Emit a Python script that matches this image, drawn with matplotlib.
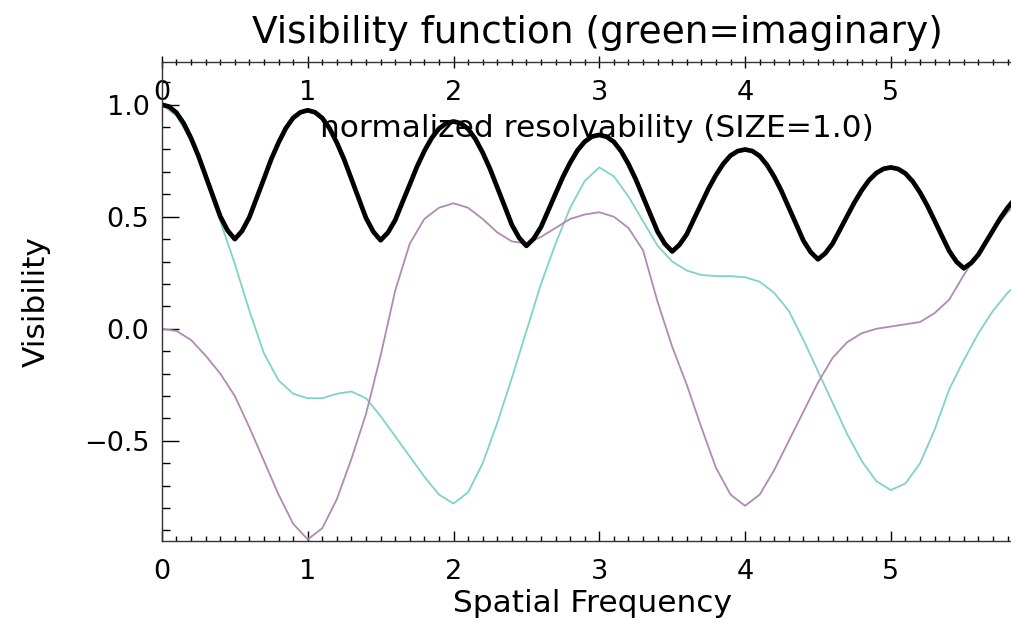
import numpy as np
import matplotlib
matplotlib.use('Agg')
from matplotlib import pyplot as plt
from matplotlib.ticker import MultipleLocator

# real / imaginary parts, read every 0.1
freq = np.round(np.arange(0, 5.91, 0.1), 1)

vis_cyan = [1.00, 0.95, 0.84, 0.67, 0.48, 0.29, 0.08, -0.11, -0.23, -0.29,
            -0.31, -0.31, -0.29, -0.28, -0.31, -0.39, -0.48, -0.57, -0.66, -0.74,
            -0.78, -0.73, -0.60, -0.42, -0.22, -0.01, 0.20, 0.38, 0.54, 0.66,
            0.72, 0.68, 0.59, 0.48, 0.37, 0.30, 0.26, 0.24, 0.235, 0.235,
            0.23, 0.21, 0.16, 0.08, -0.05, -0.19, -0.33, -0.47, -0.59, -0.68,
            -0.72, -0.69, -0.60, -0.45, -0.27, -0.14, -0.02, 0.08, 0.16, 0.22]

vis_purple = [0.00, -0.01, -0.05, -0.12, -0.20, -0.30, -0.44, -0.59, -0.74, -0.87,
              -0.94, -0.89, -0.76, -0.58, -0.38, -0.12, 0.17, 0.38, 0.49, 0.54,
              0.56, 0.54, 0.49, 0.43, 0.39, 0.38, 0.41, 0.45, 0.49, 0.51,
              0.52, 0.50, 0.45, 0.35, 0.12, -0.08, -0.25, -0.44, -0.62, -0.74,
              -0.79, -0.74, -0.63, -0.50, -0.37, -0.24, -0.13, -0.06, -0.02, 0.00,
              0.01, 0.02, 0.03, 0.07, 0.13, 0.24, 0.34, 0.44, 0.52, 0.58]

# normalized resolvability, read every 0.05
freq_fine = np.round(np.arange(0, 5.91, 0.05), 2)

resolv = [1.000, 0.991, 0.964, 0.916, 0.850, 0.772, 0.682, 0.592, 0.502, 0.439,
          0.400, 0.437, 0.498, 0.584, 0.670, 0.757, 0.831, 0.895, 0.941, 0.966,
          0.975, 0.966, 0.940, 0.894, 0.830, 0.755, 0.668, 0.581, 0.494, 0.433,
          0.395, 0.429, 0.485, 0.565, 0.644, 0.724, 0.793, 0.851, 0.893, 0.917,
          0.925, 0.917, 0.892, 0.847, 0.786, 0.714, 0.631, 0.548, 0.464, 0.406,
          0.370, 0.402, 0.454, 0.528, 0.603, 0.677, 0.741, 0.796, 0.835, 0.858,
          0.865, 0.857, 0.834, 0.792, 0.735, 0.667, 0.589, 0.511, 0.433, 0.379,
          0.345, 0.375, 0.422, 0.491, 0.559, 0.627, 0.686, 0.736, 0.773, 0.793,
          0.800, 0.793, 0.771, 0.731, 0.678, 0.614, 0.540, 0.467, 0.393, 0.342,
          0.310, 0.337, 0.380, 0.441, 0.503, 0.564, 0.618, 0.663, 0.695, 0.714,
          0.720, 0.713, 0.693, 0.657, 0.608, 0.549, 0.482, 0.414, 0.347, 0.299,
          0.270, 0.293, 0.331, 0.385, 0.439, 0.493, 0.540, 0.580, 0.608]

fig = plt.figure(figsize=(10.12, 6.26), dpi=100)
ax = fig.add_axes([0.160, 0.1358, 0.85, 0.765])

ax.plot(freq, vis_cyan, color='#80d2ca', lw=1.3)
ax.plot(freq, vis_purple, color='#b08ab4', lw=1.3)
ax.plot(freq_fine, resolv, color='black', lw=3.4, solid_joinstyle='round', solid_capstyle='round')

ax.set_xlim(0, 5.9)
ax.set_ylim(-0.947, 1.19)

for s in ax.spines.values():
    s.set_linewidth(1.0)
    s.set_color('#333333')
ax.spines['top'].set_visible(False)
ax.spines['right'].set_visible(False)

ax.set_xticks([0, 1, 2, 3, 4, 5])
ax.xaxis.set_minor_locator(MultipleLocator(0.1))
ax.set_yticks([-0.5, 0.0, 0.5, 1.0])
ax.set_yticklabels(['\u22120.5', '0.0', '0.5', '1.0'])
ax.yaxis.set_minor_locator(MultipleLocator(0.1))

ax.tick_params(axis='x', which='major', direction='in', length=7, width=1, labelsize=19.5, pad=13)
ax.tick_params(axis='x', which='minor', direction='in', length=3.5, width=1)
ax.tick_params(axis='y', which='major', direction='in', length=12, width=1, labelsize=19.5, pad=9)
ax.tick_params(axis='y', which='minor', direction='in', length=6, width=1)

top = ax.secondary_xaxis('top')
top.spines['top'].set_linewidth(1.0)
top.spines['top'].set_color('#333333')
top.set_xticks([0, 1, 2, 3, 4, 5])
top.xaxis.set_minor_locator(MultipleLocator(0.1))
top.tick_params(axis='x', which='major', direction='inout', length=9, width=1, labelsize=19.5, pad=-36)
top.tick_params(axis='x', which='minor', direction='inout', length=5, width=1)

ax.text(2.98, 0.895, 'normalized resolvability (SIZE=1.0)', fontsize=22.5,
        ha='center', va='center')

fig.text(0.59, 0.947, 'Visibility function (green=imaginary)', fontsize=27,
         ha='center', va='center')
ax.set_xlabel('Spatial Frequency', fontsize=22.5, labelpad=3)
ax.set_ylabel('Visibility', fontsize=22.5, labelpad=24)

fig.savefig('out.png', dpi=100)
